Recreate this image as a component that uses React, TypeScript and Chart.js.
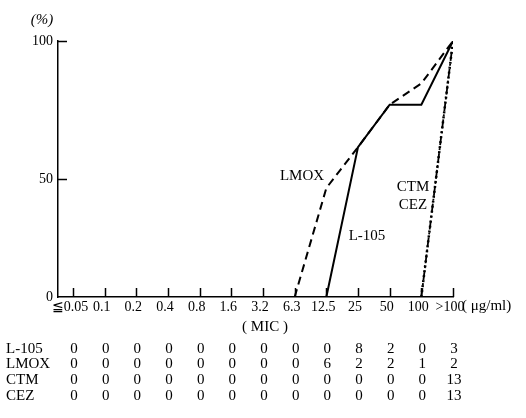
import React, { useEffect, useRef } from 'react';
import { Chart, registerables, LinearScale } from 'chart.js';

Chart.register(...registerables);

// ---- data ----
const categories = ['≦0.05', '0.1', '0.2', '0.4', '0.8', '1.6', '3.2', '6.3', '12.5', '25', '50', '100', '>100'];
const rowNames = ['L-105', 'LMOX', 'CTM', 'CEZ'];
const l105Counts = [0, 0, 0, 0, 0, 0, 0, 0, 0, 8, 2, 0, 3];
const lmoxCounts = [0, 0, 0, 0, 0, 0, 0, 0, 6, 2, 2, 1, 2];
const ctmCounts = [0, 0, 0, 0, 0, 0, 0, 0, 0, 0, 0, 0, 13];
const cezCounts = [0, 0, 0, 0, 0, 0, 0, 0, 0, 0, 0, 0, 13];
const yTickValues = [0, 50, 100];
const unitText = '( μg/ml)';
const xTitleText = '( MIC )';
const yTitleText = '(%)';

// cumulative percentage, starting from the last zero before the first isolate
function cumulative(counts: number[]) {
  const total = counts.reduce((a, b) => a + b, 0);
  const first = counts.findIndex((c) => c > 0);
  let run = 0;
  const out: { x: number; y: number }[] = [];
  counts.forEach((c, i) => {
    run += c;
    if (i >= first - 1) out.push({ x: i, y: (run / total) * 100 });
  });
  return out;
}

// the printed axis is slightly stretched above 50 %
const LOW_FRACTION = 118 / 256;
class WarpScale extends LinearScale {
  static id = 'warp';
  static defaults = LinearScale.defaults;
  getPixelForValue(value: any) {
    if (value === null || value === undefined || isNaN(value)) return NaN;
    const f = (value - (this as any).min) / ((this as any).max - (this as any).min);
    const d = f <= 0.5 ? (f / 0.5) * LOW_FRACTION : LOW_FRACTION + ((f - 0.5) / 0.5) * (1 - LOW_FRACTION);
    return (this as any).getPixelForDecimal(d);
  }
  getValueForPixel(pixel: number) {
    const d = (this as any).getDecimalForPixel(pixel);
    const f = d <= LOW_FRACTION ? (d / LOW_FRACTION) * 0.5 : 0.5 + ((d - LOW_FRACTION) / (1 - LOW_FRACTION)) * 0.5;
    return (this as any).min + f * ((this as any).max - (this as any).min);
  }
}
Chart.register(WarpScale as any);

const FONT = "'Liberation Serif', 'DejaVu Serif', serif";

const decorPlugin = {
  id: 'decor',
  afterDraw(chart: any) {
    const { ctx, scales, chartArea } = chart;
    const xs = scales.x;
    const ys = scales.y;
    ctx.save();
    ctx.strokeStyle = '#000';
    ctx.fillStyle = '#000';
    ctx.lineWidth = 1.5;
    // x ticks pointing up
    categories.forEach((_, i) => {
      const px = Math.round(xs.getPixelForValue(i)) + 0.5;
      ctx.beginPath();
      ctx.moveTo(px, chartArea.bottom);
      ctx.lineTo(px, chartArea.bottom - 9);
      ctx.stroke();
    });
    // y ticks pointing right
    yTickValues.filter((v) => v > 0).forEach((v) => {
      const py = Math.round(ys.getPixelForValue(v)) + 0.5;
      ctx.beginPath();
      ctx.moveTo(chartArea.left, py);
      ctx.lineTo(chartArea.left + 9, py);
      ctx.stroke();
    });

    ctx.textBaseline = 'middle';
    // titles
    ctx.textAlign = 'center';
    ctx.font = `italic 15px ${FONT}`;
    ctx.fillText(yTitleText, 42, 20);
    ctx.font = `15px ${FONT}`;
    ctx.fillText(xTitleText, 265, 327);
    ctx.textAlign = 'left';
    ctx.fillText(unitText, 462, 306);

    // series labels
    ctx.textAlign = 'center';
    ctx.fillText('LMOX', 302, 176);
    ctx.fillText('L-105', 367, 236);
    ctx.fillText('CTM', 413, 187);
    ctx.fillText('CEZ', 413, 205);

    // table
    const rows = [l105Counts, lmoxCounts, ctmCounts, cezCounts];
    const rowY = [349, 364, 380, 396];
    rows.forEach((row, r) => {
      ctx.textAlign = 'left';
      ctx.fillText(rowNames[r], 6, rowY[r]);
      ctx.textAlign = 'center';
      row.forEach((v, i) => {
        ctx.fillText(String(v), xs.getPixelForValue(i) + 1, rowY[r]);
      });
    });
    ctx.restore();
  },
};

export default function App() {
  const ref = useRef<HTMLCanvasElement | null>(null);
  useEffect(() => {
    if (!ref.current) return;
    Chart.defaults.font.family = FONT;
    Chart.defaults.font.size = 14;
    Chart.defaults.color = '#000';
    const chart = new Chart(ref.current, {
      type: 'line',
      data: {
        datasets: [
          {
            label: 'L-105',
            data: cumulative(l105Counts),
            borderColor: '#000',
            borderWidth: 2,
            pointRadius: 0,
            tension: 0,
          },
          {
            label: 'LMOX',
            data: cumulative(lmoxCounts),
            borderColor: '#000',
            borderWidth: 2,
            borderDash: [8, 5],
            pointRadius: 0,
            tension: 0,
          },
          {
            label: 'CTM',
            data: cumulative(ctmCounts),
            borderColor: '#000',
            borderWidth: 1.8,
            borderDash: [9, 3, 2, 3],
            pointRadius: 0,
            tension: 0,
          },
          {
            label: 'CEZ',
            data: cumulative(cezCounts),
            borderColor: '#000',
            borderWidth: 2.5,
            borderDash: [2, 3],
            pointRadius: 0,
            tension: 0,
          },
        ] as any,
      },
      options: {
        animation: false,
        responsive: false,
        devicePixelRatio: 1,
        layout: { padding: { left: 0, top: 41, right: 73, bottom: 96 } },
        plugins: { legend: { display: false }, tooltip: { enabled: false } },
        scales: {
          x: {
            type: 'linear',
            min: -0.474,
            max: 12,
            grid: { display: false, drawTicks: false },
            border: { display: true, color: '#000', width: 1.5 },
            afterBuildTicks: (scale: any) => {
              scale.ticks = categories.map((_, i) => ({ value: i }));
            },
            afterFit: (scale: any) => {
              scale.height = 25;
            },
            ticks: {
              autoSkip: false,
              maxRotation: 0,
              minRotation: 0,
              padding: 2,
              labelOffset: -3,
              color: '#000',
              font: { size: 14, family: FONT },
              callback: (v: any) => categories[Math.round(Number(v))] ?? '',
            },
          },
          y: {
            type: 'warp' as any,
            min: 0,
            max: 100,
            grid: { display: false, drawTicks: false },
            border: { display: true, color: '#000', width: 1.5 },
            afterBuildTicks: (scale: any) => {
              scale.ticks = yTickValues.map((v) => ({ value: v }));
            },
            afterFit: (scale: any) => {
              scale.width = 58;
            },
            ticks: {
              padding: 5,
              color: '#000',
              font: { size: 14, family: FONT },
              callback: (v: any) => String(v),
            },
          },
        },
      } as any,
      plugins: [decorPlugin],
    });
    return () => chart.destroy();
  }, []);
  return (
    <canvas
      ref={ref}
      width={526}
      height={418}
      style={{ position: 'fixed', left: 0, top: 0, width: 526, height: 418, background: '#fff' }}
    />
  );
}
